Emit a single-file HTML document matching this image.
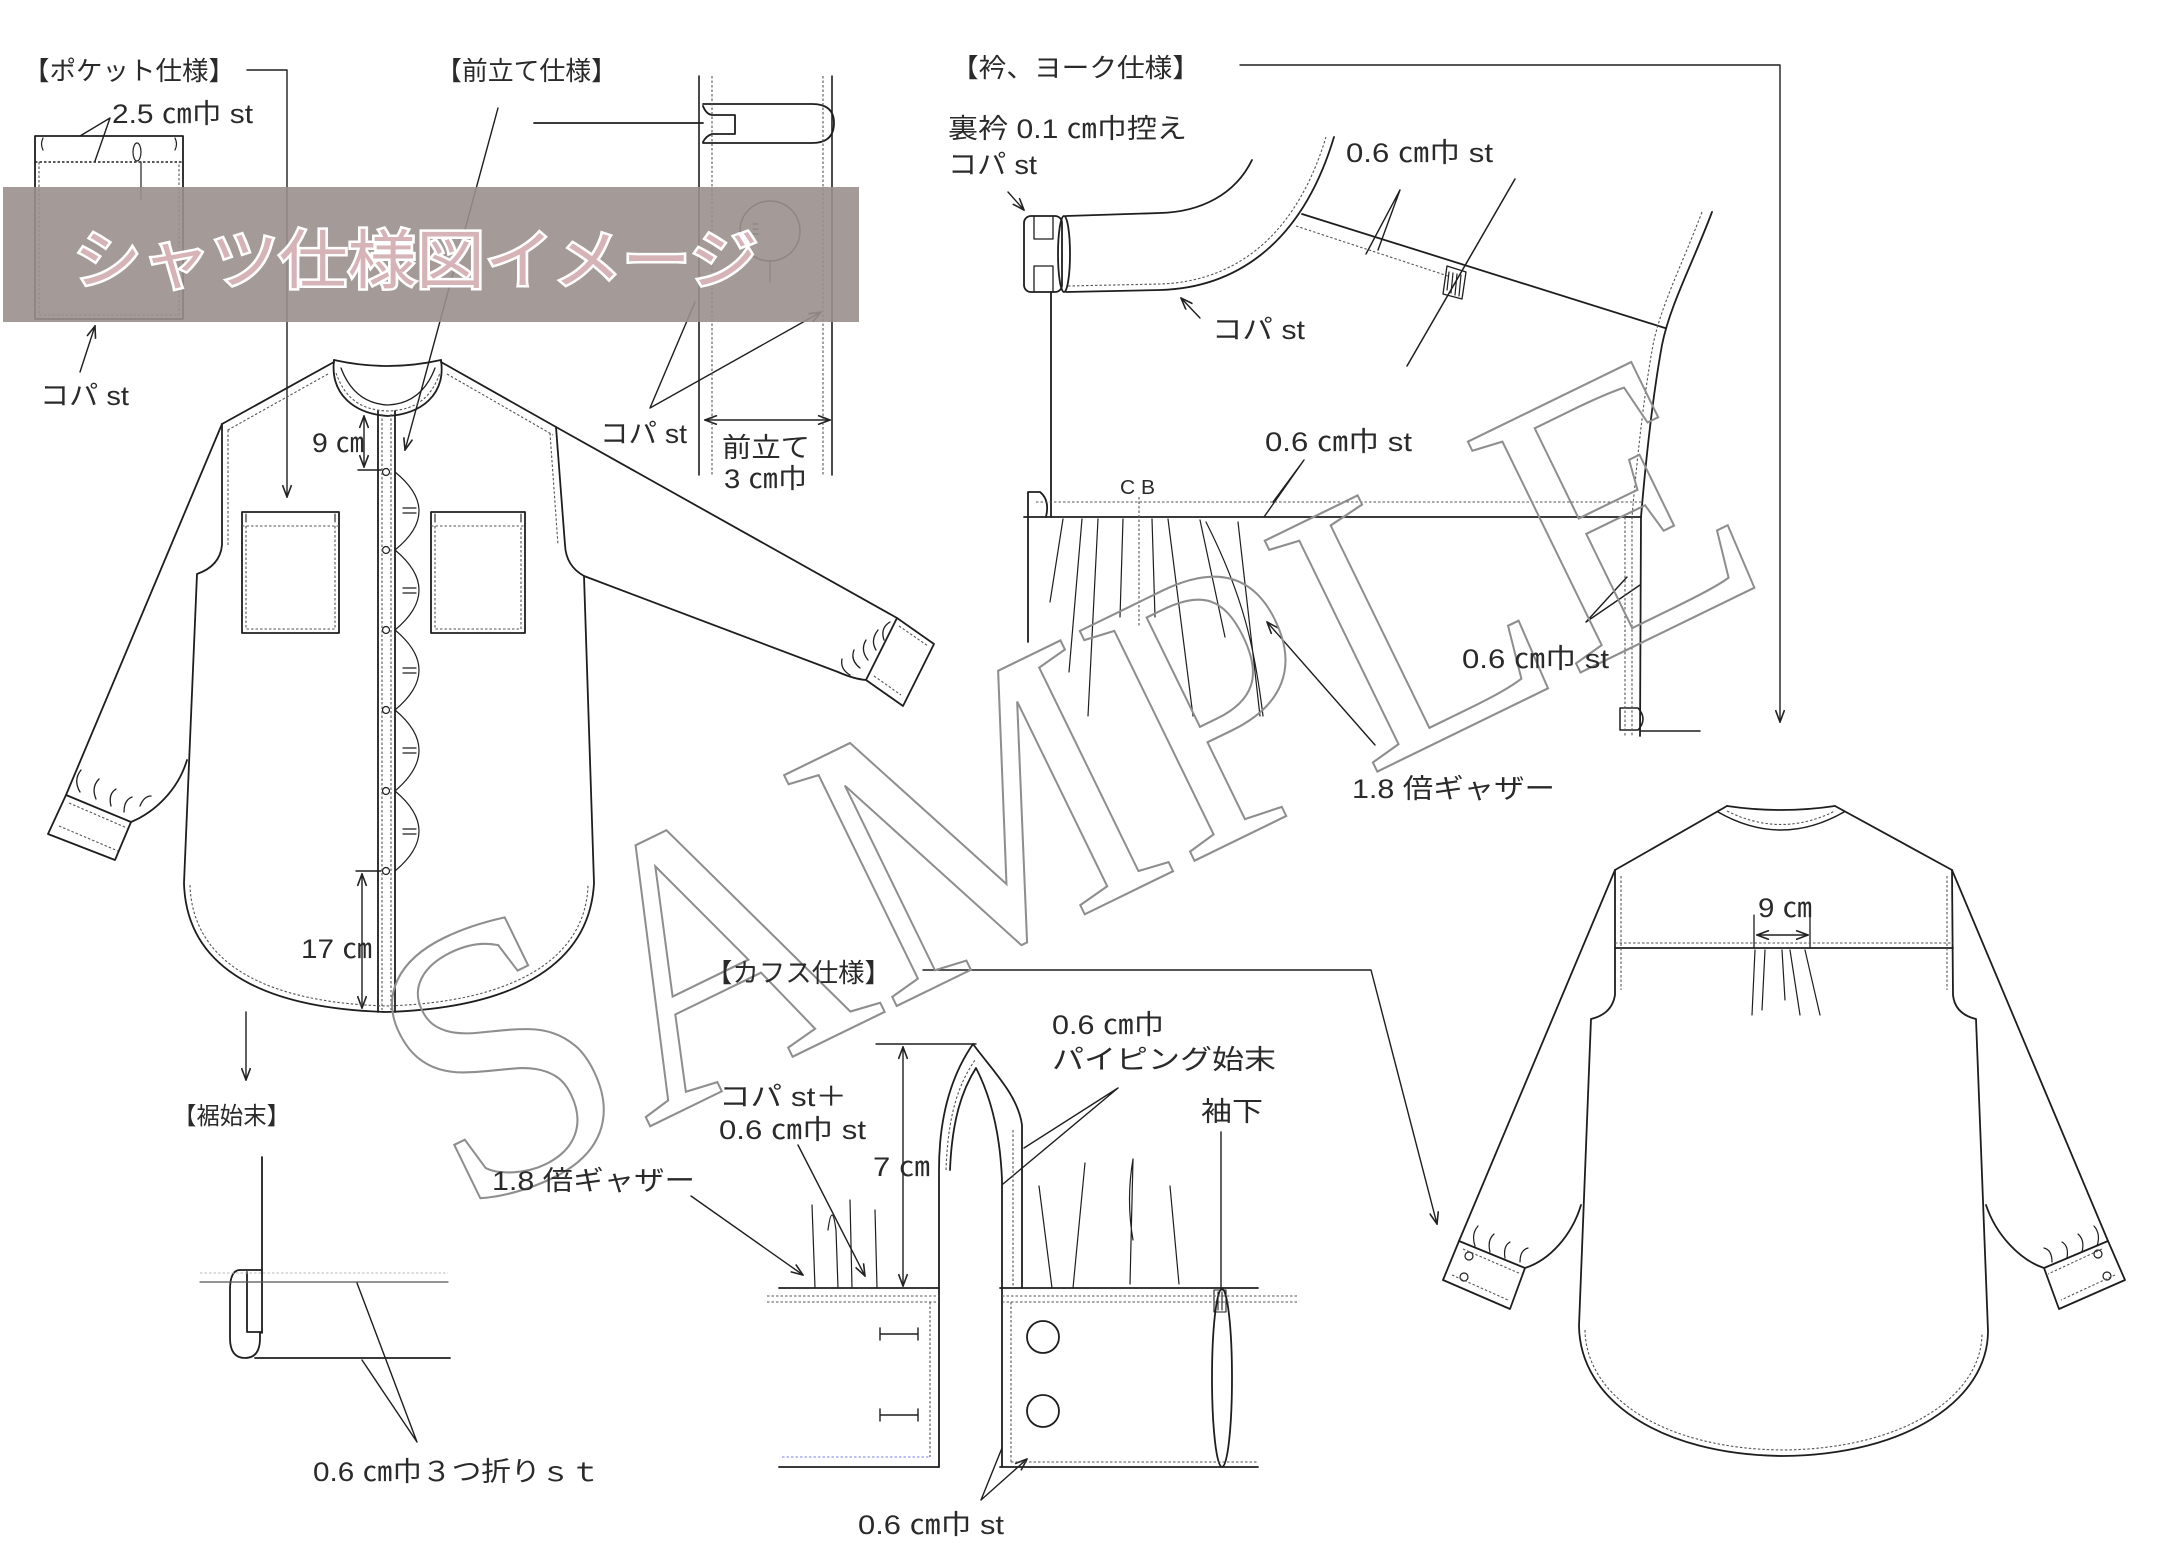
<!DOCTYPE html>
<html><head><meta charset="utf-8">
<style>
html,body{margin:0;padding:0;background:#fff;}
svg{display:block;}
.t{font-family:"Liberation Sans","Noto Sans CJK JP",sans-serif;fill:#2a2a2a;font-size:27px;}
</style></head><body>
<svg width="2184" height="1543" viewBox="0 0 2184 1543" xmlns="http://www.w3.org/2000/svg">
<defs>
<marker id="ar" viewBox="0 0 14 10" refX="13" refY="5" markerWidth="14" markerHeight="10" markerUnits="userSpaceOnUse" orient="auto-start-reverse"><path d="M1,0.5 L13,5 L1,9.5" fill="none" stroke="#222" stroke-width="1.6"/></marker>
</defs>
<rect width="2184" height="1543" fill="#fff"/>

<!-- ===== SOLID LINES ===== -->
<g fill="none" stroke="#1e1e1e" stroke-width="1.8" stroke-linecap="round" stroke-linejoin="round">
<!-- pocket spec -->
<rect x="35" y="136" width="148" height="183"/>
<path d="M43,138 q-3,6 0,12 M175,138 q3,6 0,12" stroke-width="1.2"/>
<ellipse cx="137" cy="152" rx="4" ry="9" stroke-width="1.2"/>
<path d="M141,162 L141,199" stroke-width="1.2"/>
<path d="M110,118 L80,136 M110,118 L95,161" stroke-width="1.4"/>
<path d="M80,372 L95,326" marker-end="url(#ar)" stroke-width="1.4"/>
<path d="M247,70 L287,70 L287,497" marker-end="url(#ar)" stroke-width="1.4"/>

<!-- placket spec -->
<path d="M498,108 L405,450" marker-end="url(#ar)" stroke-width="1.4"/>
<path d="M534,123 L703,123"/>
<path d="M703,104 L812,104 Q834,104 834,123 Q834,143 812,143 L703,143"/>
<path d="M703,106 Q706,114 712,115 L735,115 L735,134 L712,134 Q706,136 703,142"/>
<path d="M699,76 L699,475 M832,76 L832,475" stroke-width="1.6"/>
<circle cx="770" cy="231" r="30" stroke-width="1.4"/>
<path d="M770,261 L770,282 M753,224 l5,0 M753,229 l5,0 M753,234 l5,0" stroke-width="1.2"/>
<path d="M650,408 L695,302 M650,408 L821,312" marker-end="url(#ar)" stroke-width="1.4"/>
<path d="M705,420 L830,420" marker-start="url(#ar)" marker-end="url(#ar)" stroke-width="1.4"/>

<!-- front shirt -->
<path d="M334,360 C330,395 355,414 388,416 C421,414 446,395 441,360"/>
<path d="M334,360 Q388,372 441,360"/>
<path d="M341,368 C350,392 366,404 388,405 C410,404 426,392 435,368" stroke-width="1.3"/>
<path d="M334,362 L222,424 M441,362 L556,427"/>
<path d="M222,424 L222,545 Q220,566 197,574 L184,883 C186,960 250,1008 386,1012 C522,1008 590,960 594,883 L584,576 Q566,566 565,545 L556,427"/>
<path d="M378,411 L378,1012 M395,411 L395,1012"/>
<g stroke-width="1.2">
<circle cx="386" cy="472" r="3.5"/><circle cx="386" cy="550" r="3.5"/><circle cx="386" cy="630" r="3.5"/>
<circle cx="386" cy="710" r="3.5"/><circle cx="386" cy="791" r="3.5"/><circle cx="386" cy="871" r="3.5"/>
<path d="M395,472 Q443,511 395,550 M395,550 Q443,590 395,630 M395,630 Q443,670 395,710 M395,710 Q443,750 395,791 M395,791 Q443,831 395,871"/>
<path d="M403,508 L416,508 M403,513 L416,513 M403,588 L416,588 M403,593 L416,593 M403,668 L416,668 M403,673 L416,673 M403,748 L416,748 M403,753 L416,753 M403,829 L416,829 M403,834 L416,834"/>
</g>
<path d="M364,416 L364,467" marker-start="url(#ar)" marker-end="url(#ar)" stroke-width="1.4"/>
<path d="M358,470 L381,470 M356,871 L381,871" stroke-width="1.4"/>
<path d="M362,874 L362,1008" marker-start="url(#ar)" marker-end="url(#ar)" stroke-width="1.4"/>
<rect x="242" y="512" width="97" height="121"/>
<rect x="431" y="512" width="94" height="121"/>
<path d="M246,514 l0,8 M335,514 l0,8 M435,514 l0,8 M521,514 l0,8" stroke-width="1.1"/>
<!-- left sleeve -->
<path d="M222,424 L66,795"/>
<path d="M66,795 L131,822 L115,860 L48,834 Z"/>
<path d="M187,760 C178,790 155,812 131,822"/>
<path d="M80,792 q-7,-12 1,-22 M96,799 q-5,-12 3,-20 M111,806 q-3,-12 5,-17 M124,812 q0,-12 8,-15 M140,806 q4,-10 11,-10" stroke-width="1.3"/>
<!-- right sleeve -->
<path d="M556,427 L897,618"/>
<path d="M897,618 L934,644 L903,706 L866,680 Z"/>
<path d="M584,576 L838,672 Q854,679 866,680"/>
<path d="M850,675 q-10,-6 -8,-16 M860,668 q-10,-8 -6,-18 M868,660 q-8,-10 -2,-20 M876,650 q-6,-10 2,-20 M884,640 q-4,-12 6,-18" stroke-width="1.3"/>

<!-- hem spec -->
<path d="M246,1012 L246,1080" marker-end="url(#ar)" stroke-width="1.4"/>
<path d="M262,1157 L262,1333"/>
<path d="M262,1270 L240,1270 Q230,1270 230,1290 L230,1338 Q230,1358 245,1358 Q260,1358 260,1338 L260,1333"/>
<path d="M247,1272 L247,1332 L262,1332"/>
<path d="M200,1282 L448,1282" stroke="#555" stroke-width="1.2"/>
<path d="M255,1358 L450,1358"/>
<path d="M417,1442 L357,1283 M417,1442 L362,1360" stroke-width="1.4"/>

<!-- collar / yoke spec -->
<path d="M1240,65 L1780,65 L1780,722" marker-end="url(#ar)" stroke-width="1.4"/>
<path d="M1066,216 L1160,213 C1200,212 1235,195 1252,160"/>
<path d="M1066,292 L1160,290 C1230,288 1300,250 1334,137"/>
<rect x="1024" y="216" width="38" height="76" rx="7"/>
<ellipse cx="1064" cy="254" rx="6" ry="38"/>
<path d="M1034,216 L1034,239 L1053,239 L1053,216 M1034,292 L1034,266 L1053,266 L1053,292" stroke-width="1.3"/>
<path d="M1051,292 L1051,517"/>
<path d="M1008,192 L1024,210" marker-end="url(#ar)" stroke-width="1.4"/>
<path d="M1200,318 L1181,298" marker-end="url(#ar)" stroke-width="1.4"/>
<path d="M1302,214 L1665,328"/>
<path d="M1515,179 L1407,366" stroke-width="1.5"/>
<path d="M1447,266 L1466,272 L1462,299 L1443,294 Z" stroke-width="1.3"/>
<path d="M1449,272 l-2,18 M1453,273 l-2,20 M1457,274 l-2,21 M1461,275 l-2,21" stroke-width="1.2"/>
<path d="M1400,190 L1366,254 M1400,190 L1378,250" stroke-width="1.4"/>
<path d="M1712,212 C1692,265 1670,305 1662,345 C1652,400 1645,470 1641,517 L1640,736"/>
<path d="M1024,517 L1641,517"/>
<path d="M1028,492 L1040,492 Q1050,500 1046,517 M1028,492 L1028,642"/>
<path d="M1304,460 L1264,517 M1304,460 L1273,502" stroke-width="1.4"/>
<path d="M1586,622 L1627,577 M1586,622 L1640,585" stroke-width="1.4"/>
<path d="M1620,708 L1638,708 Q1648,719 1638,730 L1620,730 Z M1640,731 L1700,731" stroke-width="1.5"/>
<path d="M1375,745 L1267,622" marker-end="url(#ar)" stroke-width="1.4"/>
<g stroke-width="1.2">
<path d="M1063,519 L1050,602 M1082,519 L1069,672 M1098,519 L1088,716 M1123,519 L1120,617 M1152,519 L1155,617 M1168,519 L1193,716 M1200,520 L1225,637 M1206,522 C1244,597 1255,650 1263,716 M1238,522 L1260,716"/>
</g>

<!-- cuff spec -->
<path d="M923,970 L1371,970 L1437,1224" marker-end="url(#ar)" stroke-width="1.4"/>
<path d="M876,1044 L976,1044" stroke-width="1.4"/>
<path d="M903,1047 L903,1286" marker-start="url(#ar)" marker-end="url(#ar)" stroke-width="1.4"/>
<path d="M939,1467 L939,1170 C939,1110 955,1070 973,1044 C992,1070 1018,1095 1022,1125 L1022,1288"/>
<path d="M950,1170 C952,1120 962,1090 976,1068 C990,1095 1000,1130 1002,1180 L1002,1467"/>
<path d="M779,1288 L939,1288 M1000,1288 L1258,1288"/>
<path d="M779,1467 L939,1467 M1000,1467 L1258,1467"/>
<path d="M880,1334 L918,1334 M880,1328 L880,1340 M918,1328 L918,1340 M880,1415 L918,1415 M880,1409 L880,1421 M918,1409 L918,1421" stroke-width="1.4"/>
<circle cx="1043" cy="1337" r="16"/>
<circle cx="1043" cy="1411" r="16"/>
<ellipse cx="1222" cy="1378" rx="10" ry="89"/>
<path d="M1221,1132 L1221,1288" stroke-width="1.4"/>
<path d="M1214,1290 L1226,1290 L1226,1312 L1214,1312 Z M1218,1292 l0,18 M1222,1292 l0,18" stroke-width="1.1"/>
<path d="M1118,1088 L1024,1148 M1118,1088 L1003,1184" stroke-width="1.4"/>
<path d="M798,1145 L865,1276" marker-end="url(#ar)" stroke-width="1.4"/>
<path d="M691,1196 L803,1275" marker-end="url(#ar)" stroke-width="1.4"/>
<path d="M981,1500 L1002,1448 M981,1500 L1027,1459" marker-end="url(#ar)" stroke-width="1.4"/>
<g stroke-width="1.2">
<path d="M812,1205 L815,1288 M828,1230 Q832,1200 836,1230 L838,1288 M850,1200 L852,1288 M875,1210 L877,1288"/>
<path d="M1039,1186 L1052,1288 M1085,1163 L1073,1288 M1133,1159 Q1126,1200 1133,1240 M1133,1159 L1130,1284 M1170,1186 L1179,1284"/>
</g>

<!-- back shirt -->
<path d="M1727,806 Q1781,814 1835,806"/>
<path d="M1718,812 Q1781,848 1844,812" stroke-width="1.5"/>
<path d="M1727,806 L1615,870 M1835,806 L1952,870"/>
<path d="M1615,870 L1615,995 Q1612,1014 1591,1019 L1579,1326 C1580,1400 1660,1455 1783,1456 C1906,1455 1988,1400 1988,1331 L1976,1019 Q1955,1014 1953,995 L1952,870"/>
<path d="M1615,948 L1953,948"/>
<path d="M1615,870 L1459,1241 M1952,870 L2108,1241"/>
<path d="M1459,1241 L1525,1268 L1510,1309 L1443,1280 Z"/>
<path d="M2108,1241 L2125,1280 L2059,1309 L2044,1268 Z"/>
<path d="M1581,1205 C1572,1235 1550,1260 1525,1268"/>
<path d="M1986,1205 C1996,1235 2020,1260 2044,1268"/>
<g stroke-width="1.2">
<circle cx="1469" cy="1256" r="4"/><circle cx="1464" cy="1277" r="4"/>
<circle cx="2098" cy="1254" r="4"/><circle cx="2107" cy="1276" r="4"/>
<path d="M1475,1246 q-4,-12 3,-20 M1490,1252 q-3,-12 4,-18 M1505,1258 q-2,-12 5,-16 M1520,1262 q0,-12 8,-14"/>
<path d="M2097,1246 q4,-12 -3,-20 M2082,1252 q3,-12 -4,-18 M2067,1258 q2,-12 -5,-16 M2052,1262 q0,-12 -8,-14"/>
<path d="M1755,950 L1752,1015 M1765,950 L1762,1010 M1782,950 L1785,1000 M1790,950 L1800,1015 M1805,950 L1820,1015"/>
</g>
<path d="M1757,935 L1808,935" marker-start="url(#ar)" marker-end="url(#ar)" stroke-width="1.4"/>
<path d="M1754,915 L1754,948 M1810,915 L1810,948" stroke-width="1.3"/>
</g>

<!-- ===== DOTTED LINES ===== -->
<g fill="none" stroke="#555" stroke-width="1.1" stroke-dasharray="2.5 2">
<path d="M35,162 L183,162" stroke="#222" stroke-width="1.5"/>
<path d="M39,162 L39,315 L179,315 L179,162"/>
<path d="M712,76 L712,475 M823,76 L823,475"/>
<path d="M336,373 C345,398 360,410 388,411 C416,410 431,398 440,373"/>
<path d="M328,374 L226,431 M447,374 L553,435"/>
<path d="M228,430 L228,545 M550,433 L558,545"/>
<path d="M190,885 C192,955 252,1002 386,1006 C520,1002 586,955 588,885"/>
<path d="M382,414 L382,1010 M391,414 L391,1010"/>
<path d="M242,526 L339,526 M431,526 L525,526"/>
<path d="M246,526 L246,629 L335,629 L335,526 M435,526 L435,629 L521,629 L521,526"/>
<path d="M69,803 L127,828 M59,826 L118,851"/>
<path d="M899,626 L928,646 M874,676 L901,695"/>
<path d="M1068,286 L1160,284 C1226,282 1293,246 1326,137"/>
<path d="M1296,226 L1448,276"/>
<path d="M1702,212 C1682,265 1661,305 1653,345 C1643,400 1636,470 1632,517 L1632,736 M1625,517 L1625,736"/>
<path d="M1036,502 L1641,502"/>
<path d="M1139,497 L1139,627"/>
<path d="M767,1296 L939,1296 M767,1302 L939,1302 M1002,1296 L1297,1296 M1002,1302 L1297,1302"/>
<path d="M930,1302 L930,1457 M1011,1302 L1011,1462 M1011,1462 L1258,1462"/>
<path d="M782,1457 L930,1457" stroke="#7a86e0"/>
<path d="M1013,1130 L1013,1288 M946,1170 C948,1115 958,1085 975,1060"/>
<path d="M200,1273 L448,1273" stroke="#bbb"/>
<path d="M1727,811 Q1781,838 1835,811"/>
<path d="M1621,876 L1621,990 M1947,876 L1947,990"/>
<path d="M1615,943 L1953,943"/>
<path d="M1585,1330 C1586,1396 1662,1449 1783,1450 C1904,1449 1982,1396 1982,1333"/>
<path d="M1463,1249 L1521,1274 M1452,1275 L1508,1300 M2102,1249 L2048,1274 M2115,1275 L2061,1300"/>
</g>

<!-- ===== WATERMARK ===== -->
<text transform="translate(462,1218) rotate(-26) scale(1,1.06)" font-family="Liberation Serif, serif" font-size="370" fill="none" stroke="#8e8e8e" stroke-width="2">SAMPLE</text>

<!-- ===== BANNER ===== -->
<rect x="3" y="187" width="856" height="135" fill="#9a8f8d" opacity="0.9"/>
<text x="73" y="283" font-family="Liberation Sans, Noto Sans CJK JP, sans-serif" font-size="64" textLength="685" lengthAdjust="spacingAndGlyphs" fill="#fff" stroke="#fff" stroke-width="5">シャツ仕様図イメージ</text>
<text x="73" y="283" font-family="Liberation Sans, Noto Sans CJK JP, sans-serif" font-size="64" textLength="685" lengthAdjust="spacingAndGlyphs" fill="#d6b3b6">シャツ仕様図イメージ</text>

<!-- ===== LABELS ===== -->
<g class="t">
<text x="23" y="80" font-size="26" textLength="212" lengthAdjust="spacingAndGlyphs">【ポケット仕様】</text>
<text x="112" y="123" textLength="141" lengthAdjust="spacingAndGlyphs">2.5 ㎝巾 st</text>
<text x="40" y="405" textLength="89" lengthAdjust="spacingAndGlyphs">コパ st</text>
<text x="436" y="80" font-size="26" textLength="181" lengthAdjust="spacingAndGlyphs">【前立て仕様】</text>
<text x="600" y="443" textLength="87" lengthAdjust="spacingAndGlyphs">コパ st</text>
<text x="722" y="457" textLength="88" lengthAdjust="spacingAndGlyphs">前立て</text>
<text x="724" y="488" textLength="83" lengthAdjust="spacingAndGlyphs">3 ㎝巾</text>
<text x="951" y="77" font-size="26" textLength="249" lengthAdjust="spacingAndGlyphs">【衿、ヨーク仕様】</text>
<text x="948" y="138" textLength="239" lengthAdjust="spacingAndGlyphs">裏衿 0.1 ㎝巾控え</text>
<text x="948" y="174" textLength="89" lengthAdjust="spacingAndGlyphs">コパ st</text>
<text x="1212" y="339" textLength="93" lengthAdjust="spacingAndGlyphs">コパ st</text>
<text x="1346" y="162" textLength="147" lengthAdjust="spacingAndGlyphs">0.6 ㎝巾 st</text>
<text x="1265" y="451" textLength="147" lengthAdjust="spacingAndGlyphs">0.6 ㎝巾 st</text>
<text x="1120" y="494" font-size="20" textLength="35" lengthAdjust="spacingAndGlyphs">C B</text>
<text x="1462" y="668" textLength="147" lengthAdjust="spacingAndGlyphs">0.6 ㎝巾 st</text>
<text x="1352" y="798" textLength="203" lengthAdjust="spacingAndGlyphs">1.8 倍ギャザー</text>
<text x="312" y="452" textLength="52" lengthAdjust="spacingAndGlyphs">9 ㎝</text>
<text x="301" y="958" textLength="71" lengthAdjust="spacingAndGlyphs">17 ㎝</text>
<text x="173" y="1124" font-size="24" textLength="117" lengthAdjust="spacingAndGlyphs">【裾始末】</text>
<text x="313" y="1481" textLength="287" lengthAdjust="spacingAndGlyphs">0.6 ㎝巾３つ折りｓｔ</text>
<text x="706" y="982" font-size="26" textLength="185" lengthAdjust="spacingAndGlyphs">【カフス仕様】</text>
<text x="1052" y="1034" textLength="112" lengthAdjust="spacingAndGlyphs">0.6 ㎝巾</text>
<text x="1052" y="1069" textLength="224" lengthAdjust="spacingAndGlyphs">パイピング始末</text>
<text x="1201" y="1121" textLength="62" lengthAdjust="spacingAndGlyphs">袖下</text>
<text x="719" y="1106" textLength="128" lengthAdjust="spacingAndGlyphs">コパ st＋</text>
<text x="719" y="1139" textLength="147" lengthAdjust="spacingAndGlyphs">0.6 ㎝巾 st</text>
<text x="873" y="1176" textLength="57" lengthAdjust="spacingAndGlyphs">7 ㎝</text>
<text x="492" y="1190" textLength="203" lengthAdjust="spacingAndGlyphs">1.8 倍ギャザー</text>
<text x="858" y="1534" textLength="146" lengthAdjust="spacingAndGlyphs">0.6 ㎝巾 st</text>
<text x="1758" y="917" textLength="54" lengthAdjust="spacingAndGlyphs">9 ㎝</text>
</g>
</svg>
</body></html>
